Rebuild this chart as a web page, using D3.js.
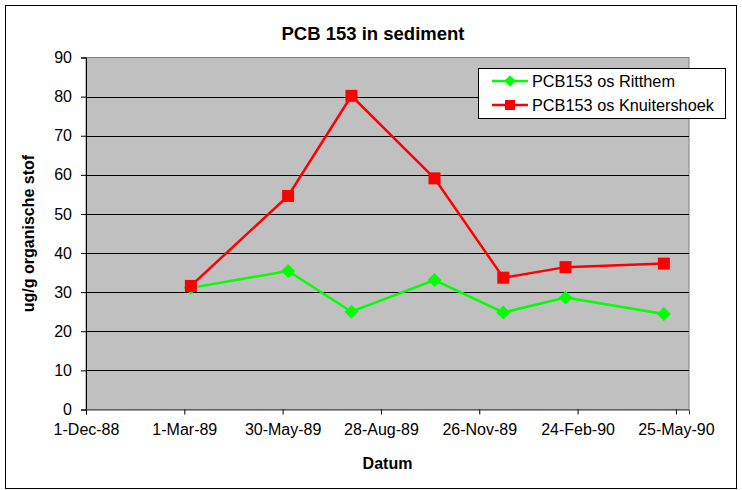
<!DOCTYPE html>
<html>
<head>
<meta charset="utf-8">
<script src="https://cdn.jsdelivr.net/npm/d3@7.9.0/dist/d3.min.js"></script>
<style>
  body { margin: 0; background: #fff; }
  svg { display: block; font-family: Arial, "Liberation Sans", sans-serif; }
</style>
</head>
<body>
<svg id="chart" width="742" height="490"></svg>
<script>
// sample dates and values in ug/g organische stof
const dates = ['1989-03-07', '1989-06-04', '1989-08-01', '1989-10-16', '1989-12-18', '1990-02-13', '1990-05-14'];
const ritthem = [31.1, 35.4, 25.0, 33.1, 24.8, 28.6, 24.4];
const knuitershoek = [31.6, 54.6, 80.2, 59.1, 33.7, 36.4, 37.3];
const seriesNames = ['PCB153 os Ritthem', 'PCB153 os Knuitershoek'];
const yTicks = [0, 10, 20, 30, 40, 50, 60, 70, 80, 90];

const parse = d3.utcParse('%Y-%m-%d');
const start = Date.UTC(1988, 11, 1);
const xTicks = d3.range(7).map((i) => d3.utcDay.offset(new Date(start), 90 * i));

const svg = d3.select('#chart');
const plot = { left: 86, right: 689, top: 57.5, bottom: 409.5 };

const x = d3.scaleUtc()
  .domain([new Date(start), d3.utcDay.offset(new Date(start), 552)])
  .range([plot.left, plot.right]);

const y = d3.scaleLinear()
  .domain([0, 90])
  .range([plot.bottom, plot.top]);

// outer frame
svg.append('rect')
  .attr('x', 5.5).attr('y', 5.5)
  .attr('width', 731).attr('height', 483)
  .attr('fill', '#fff').attr('stroke', '#000');

// plot area
svg.append('rect')
  .attr('x', plot.left).attr('y', plot.top)
  .attr('width', plot.right - plot.left).attr('height', plot.bottom - plot.top)
  .attr('fill', '#c0c0c0').attr('stroke', '#808080');

// gridlines
svg.append('g')
  .selectAll('line')
  .data(yTicks.filter((d) => d > 0 && d < 90))
  .join('line')
  .attr('x1', plot.left).attr('x2', plot.right)
  .attr('y1', (d) => Math.round(y(d)) + 0.5)
  .attr('y2', (d) => Math.round(y(d)) + 0.5)
  .attr('stroke', '#000');

// y axis
const yAxis = svg.append('g')
  .attr('transform', `translate(${plot.left},0)`)
  .call(d3.axisLeft(y).tickValues(yTicks).tickSize(5).tickPadding(9));
yAxis.select('.domain').attr('stroke', '#000');
yAxis.selectAll('text').attr('font-size', 16).attr('fill', '#000')
  .attr('font-family', 'Arial, "Liberation Sans", sans-serif');

// x axis
const xAxis = svg.append('g')
  .attr('transform', `translate(0,${plot.bottom})`)
  .call(d3.axisBottom(x).tickValues(xTicks).tickFormat(d3.utcFormat('%-d-%b-%y')).tickSize(5).tickPadding(9));
xAxis.select('.domain').attr('stroke', '#404040');
xAxis.selectAll('text').attr('font-size', 16).attr('fill', '#000')
  .attr('font-family', 'Arial, "Liberation Sans", sans-serif');

// titles
svg.append('text')
  .attr('x', 373).attr('y', 40)
  .attr('text-anchor', 'middle')
  .attr('font-size', 18.5).attr('font-weight', 'bold')
  .text('PCB 153 in sediment');

svg.append('text')
  .attr('x', (plot.left + plot.right) / 2).attr('y', 469)
  .attr('text-anchor', 'middle')
  .attr('font-size', 16).attr('font-weight', 'bold')
  .text('Datum');

svg.append('text')
  .attr('transform', `translate(34,${(plot.top + plot.bottom) / 2}) rotate(-90)`)
  .attr('text-anchor', 'middle')
  .attr('font-size', 16).attr('font-weight', 'bold')
  .text('ug/g organische stof');

const line = d3.line()
  .x((d) => x(d.date))
  .y((d) => y(d.value));

const series = [
  { name: seriesNames[0], color: '#00ff00', shape: 'diamond', values: ritthem },
  { name: seriesNames[1], color: '#ff0000', shape: 'square', values: knuitershoek },
].map((s) => ({ ...s, points: s.values.map((v, i) => ({ date: parse(dates[i]), value: v })) }));

function marker(sel, shape, color, size) {
  if (shape === 'square') {
    sel.append('rect')
      .attr('x', -size / 2).attr('y', -size / 2)
      .attr('width', size).attr('height', size)
      .attr('fill', color);
  } else {
    const h = size * 0.58;
    sel.append('path')
      .attr('d', `M0,${-h}L${h},0L0,${h}L${-h},0Z`)
      .attr('fill', color);
  }
}

series.forEach((s) => {
  svg.append('path')
    .datum(s.points)
    .attr('d', line)
    .attr('fill', 'none')
    .attr('stroke', s.color)
    .attr('stroke-width', 2.5);

  svg.append('g')
    .selectAll('g')
    .data(s.points)
    .join('g')
    .attr('transform', (d) => `translate(${x(d.date)},${y(d.value)})`)
    .each(function () { marker(d3.select(this), s.shape, s.color, 12); });
});

// legend
const legend = svg.append('g');
legend.append('rect')
  .attr('x', 478.5).attr('y', 68.5)
  .attr('width', 247).attr('height', 50)
  .attr('fill', '#fff').attr('stroke', '#000');

series.forEach((s, i) => {
  const ly = 81 + i * 24;
  legend.append('line')
    .attr('x1', 492).attr('x2', 528)
    .attr('y1', ly).attr('y2', ly)
    .attr('stroke', s.color).attr('stroke-width', 2.5);
  const m = legend.append('g').attr('transform', `translate(510,${ly})`);
  marker(m, s.shape, s.color, 10);
  legend.append('text')
    .attr('x', 532).attr('y', ly + 6)
    .attr('font-size', 16.3)
    .text(s.name);
});
</script>
</body>
</html>
